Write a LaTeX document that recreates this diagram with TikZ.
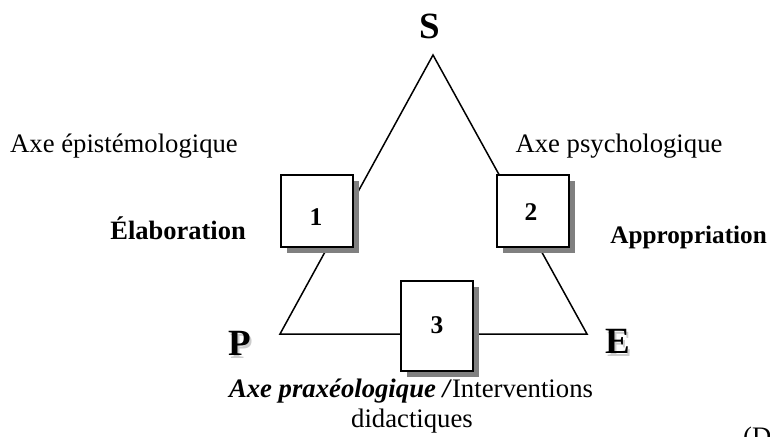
\documentclass[tikz,border=0pt]{standalone}
\usepackage{fontspec}
\setmainfont{Liberation Serif}
\usetikzlibrary{shadows}
\newcommand{\shadowed}[1]{\rlap{\hspace{2pt}\raisebox{-3pt}{\textcolor{gray!40}{#1}}}#1}
\begin{document}
\begin{tikzpicture}[x=1pt,y=-1pt,
  leg/.style={line width=1.5pt, line join=miter},
  numbox/.style={draw, line width=2pt, fill=white, minimum width=72pt, minimum height=72pt, inner sep=0pt,
    drop shadow={shadow xshift=6pt, shadow yshift=-6pt, fill=gray, opacity=1}},
  lbl/.style={inner sep=0pt, font=\fontsize{26.7}{30}\selectfont},
  blbl/.style={inner sep=0pt, font=\fontsize{26.5}{30}\selectfont\bfseries},
  vert/.style={inner sep=0pt, font=\fontsize{37}{40}\selectfont\bfseries},
  num/.style={inner sep=0pt, font=\fontsize{25.5}{28}\selectfont\bfseries}]
\useasboundingbox (0,0) rectangle (770,436);
% triangle corners
\coordinate (apex) at (433,55);
\coordinate (pc) at (280,334);
\coordinate (ec) at (587,334);
\draw[leg] (apex) -- (pc) -- (ec) -- cycle;
% boxes
\node[numbox] (b1) at (316.5,210.5) {};
\node[numbox] (b2) at (532.5,210.5) {};
\node[numbox, minimum height=90pt] (b3) at (436.5,325.5) {};
\node[num] (n1) at (316,217) {1};
\node[num] (n2) at (531,212) {2};
\node[num] (n3) at (437,325) {3};
% vertices
\node[vert, anchor=base] (S) at (430,38) {S};
\node[vert, anchor=base west] (P) at (228,355) {\shadowed{P}};
\node[vert, anchor=base west] (E) at (605,353) {\shadowed{E}};
% labels
\node[lbl, anchor=base] (epi) at (124,152) {Axe épistémologique};
\node[lbl, anchor=base] (psy) at (619,152) {Axe psychologique};
\node[blbl, anchor=base east] (ela) at (246,239) {Élaboration};
\node[blbl, anchor=base east, font=\fontsize{25.2}{28}\selectfont\bfseries] (app) at (767,243) {Appropriation};
\node[lbl, anchor=base] (prax) at (411,397) {\textbf{\textit{Axe praxéologique /}}Interventions};
\node[lbl, anchor=base] (did) at (412,427) {didactiques};
\node[lbl, anchor=base west] (cut) at (743,445) {(D};
\end{tikzpicture}
\end{document}
